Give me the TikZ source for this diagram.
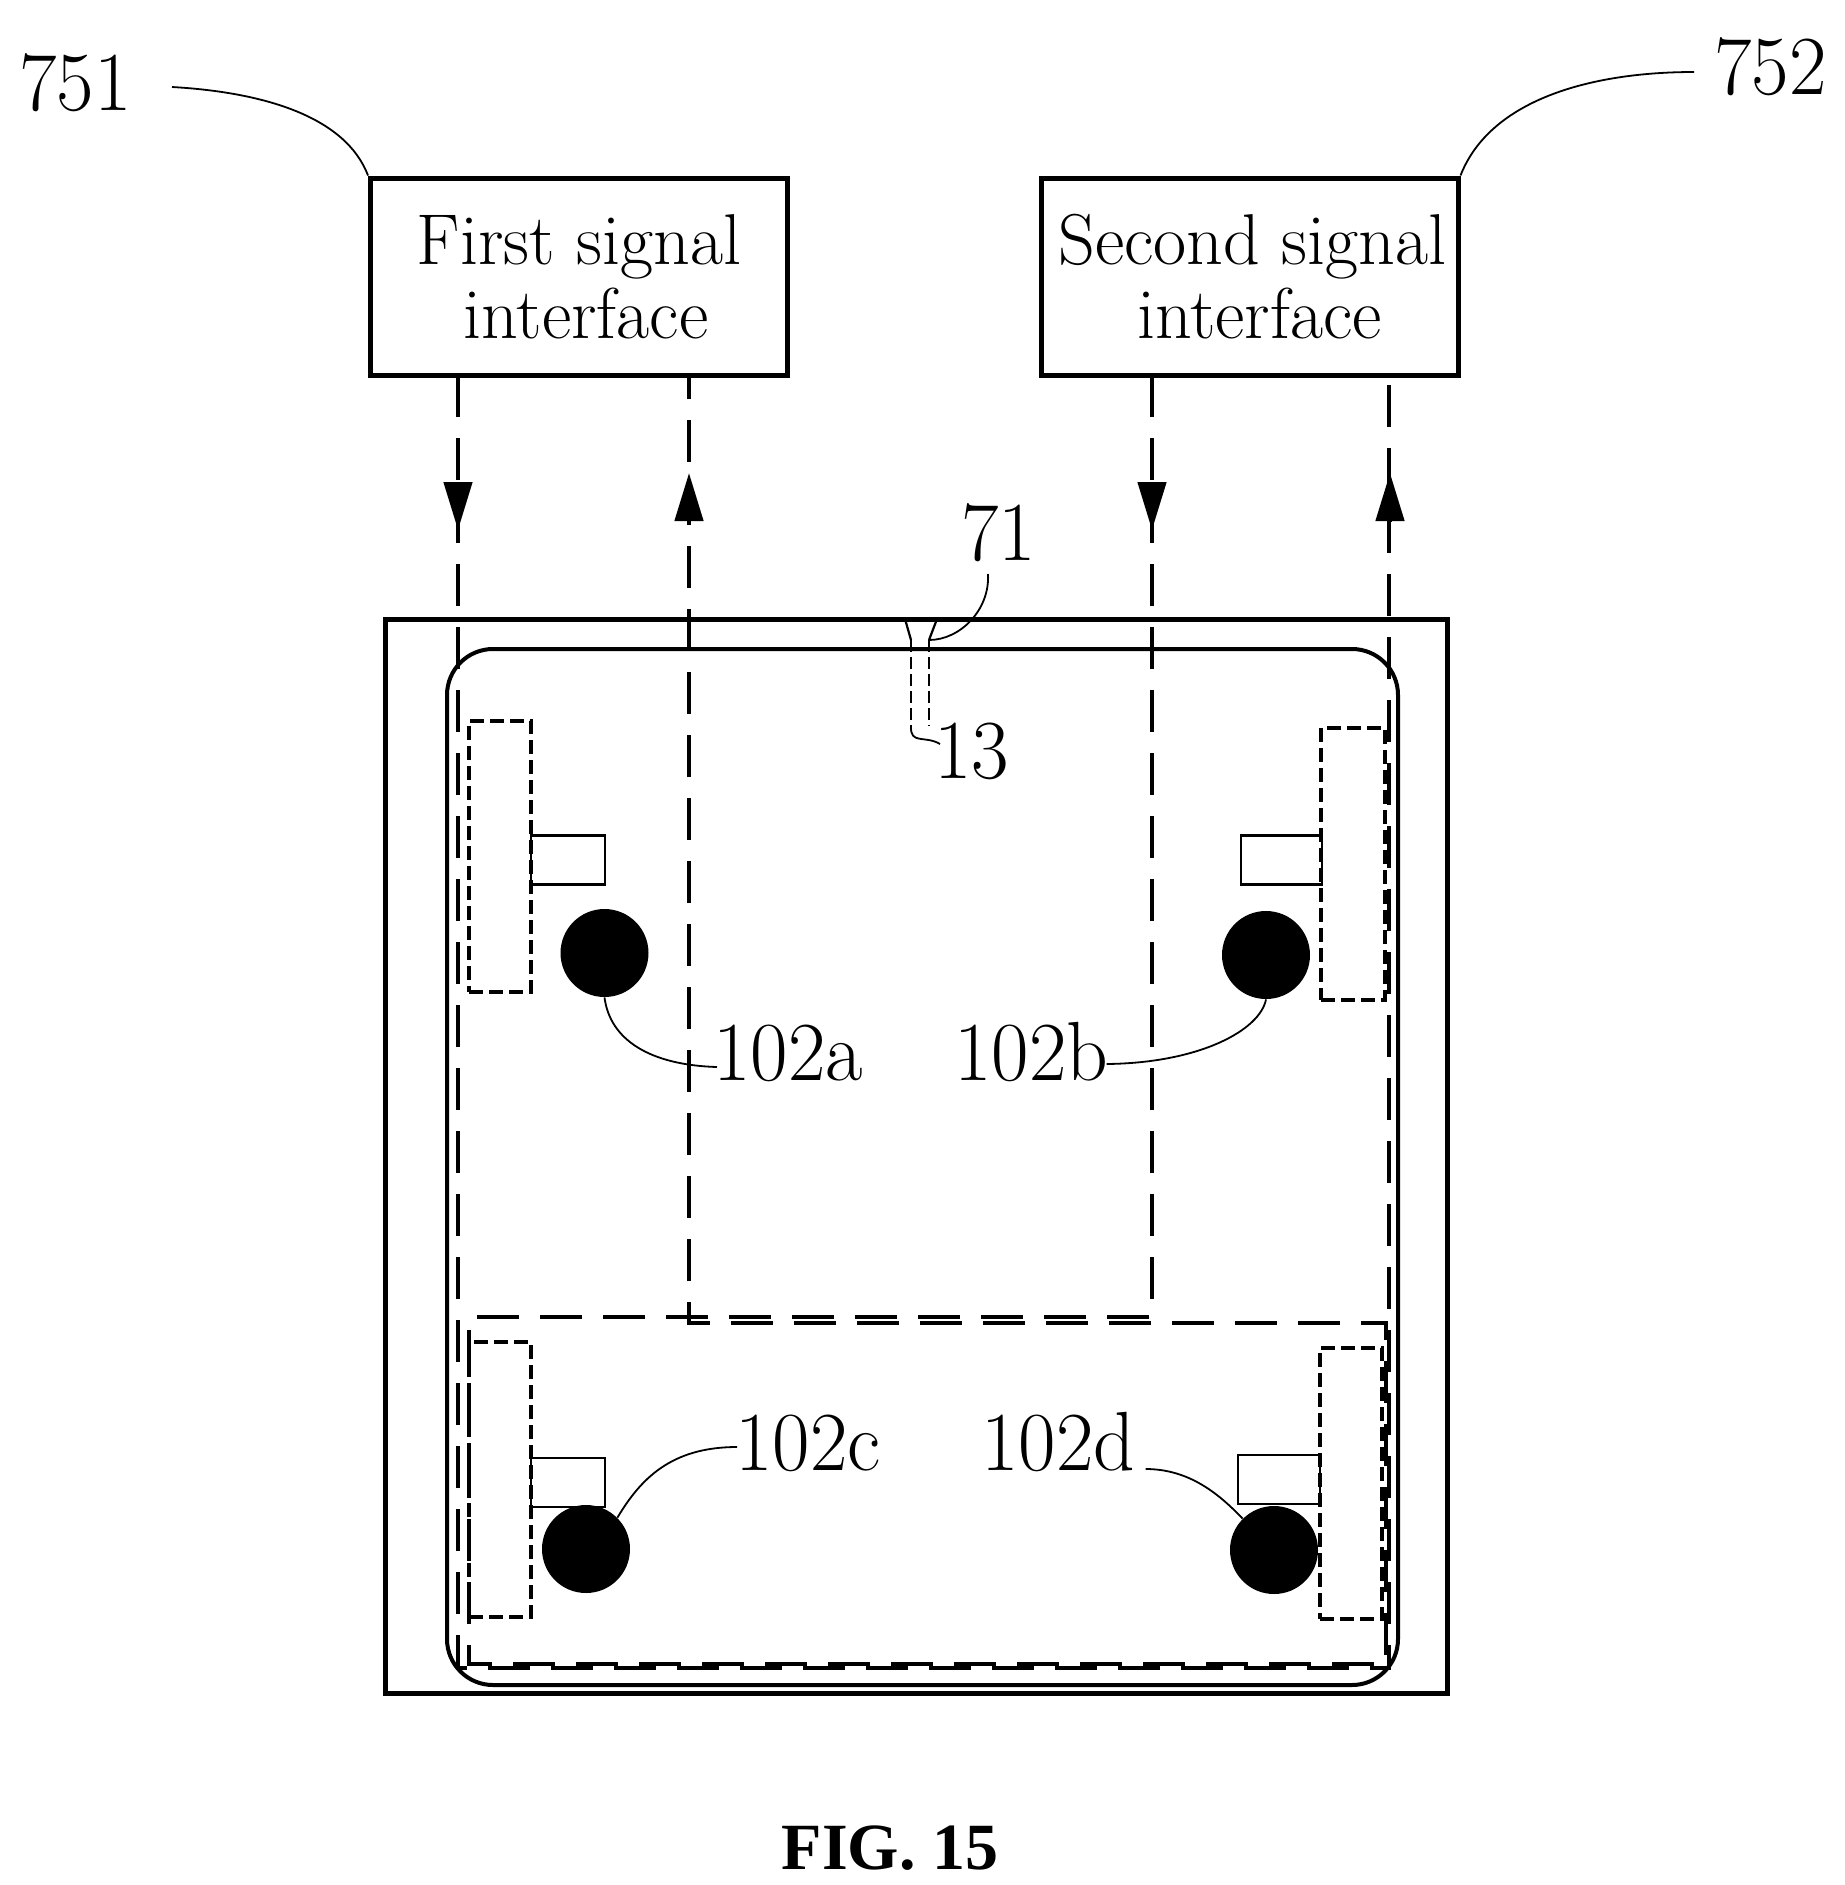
\documentclass[tikz,border=0pt]{standalone}
\usepackage{graphicx}
\usepackage{fontspec}
\newfontfamily\figfont{Liberation Serif}
\usetikzlibrary{arrows.meta}
\newcommand{\nw}[1]{\scalebox{.97}[1]{#1}}
\tikzset{
  frame/.style={draw=black,line width=2.5pt,fill=none},
  ifacebox/.style={draw=black,line width=2.5pt,minimum width=208.5pt,minimum height=98.5pt,inner sep=0pt,align=center,font=\fontsize{36}{36}\selectfont},
  reflabel/.style={anchor=base west,inner sep=0pt,font=\fontsize{42}{42}\selectfont},
  sig/.style={draw=black,line width=2.3pt,dash pattern=on 21pt off 10.5pt},
  sighead/.style={draw=black,line width=2.3pt,-{Triangle[length=24pt,width=14pt]}},
  leader/.style={draw=black,line width=0.9pt},
  strip/.style={draw=black,line width=1.6pt,dash pattern=on 7pt off 3pt},
  tab/.style={draw=black,line width=1.4pt,minimum width=37pt,minimum height=24.5pt,inner sep=0pt},
  dot/.style={circle,fill=black,minimum size=44pt,inner sep=0pt},
  pinline/.style={draw=black,line width=1.1pt,dash pattern=on 6pt off 2.5pt},
}
\begin{document}
\begin{tikzpicture}[x=0.5pt,y=-0.5pt]
\useasboundingbox (0,0) rectangle (1844,1885);
% interface boxes
\node[ifacebox] (b751) at (579,276.5) {First signal\\[1pt]\hspace*{7pt}interface};
\node[ifacebox] (b752) at (1249.5,276.5) {\hspace*{3pt}Second signal\\[1pt]\hspace*{10pt}interface};
% reference labels
\node[reflabel] (l751) at (19,110) {\nw{751}};
\node[reflabel] (l752) at (1714,94) {\nw{752}};
\node[reflabel] (l71) at (961,560) {\nw{71}};
\node[reflabel] (l13) at (934,778) {\nw{13}};
\node[reflabel] (l102a) at (713,1080) {\nw{102a}};
\node[reflabel] (l102b) at (954,1080) {\nw{102b}};
\node[reflabel] (l102c) at (735,1470) {\nw{102c}};
\node[reflabel] (l102d) at (981,1470) {\nw{102d}};
% housing
\draw[frame] (385,619) rectangle (1447,1693);
\draw[frame,line width=2pt,rounded corners=23pt] (447,649) rectangle (1398,1685);
% signal path coordinates
\coordinate (s1t) at (458,375);  \coordinate (s1k) at (458,482); \coordinate (s1h) at (458,530);
\coordinate (s1c) at (458,1668); \coordinate (s1d) at (1389,1668);
\coordinate (s2t) at (689,375);  \coordinate (s2k) at (689,522); \coordinate (s2h) at (689,473);
\coordinate (s2b) at (689,1323);
\coordinate (s3t) at (1152,375); \coordinate (s3k) at (1152,482); \coordinate (s3h) at (1152,530);
\coordinate (s3b) at (1152,1317);
\coordinate (s4t) at (1390,375); \coordinate (s4k) at (1390,522); \coordinate (s4h) at (1390,473);
\coordinate (s5a) at (469,1317); \coordinate (s5b) at (469,1664);
\coordinate (s5c) at (1386,1664);\coordinate (s5d) at (1386,1323);
% signal paths
\draw[sig] (s1t) -- (s1c) -- (s1d) -- (s1d |- s4t);
\draw[sig] (s3t) -- (s3b) -- (s5a) -- (s5b) -- (s5c) -- (s5d) -- (s2b) -- (s2t);
\draw[sighead] (s1k) -- (s1h);
\draw[sighead] (s2k) -- (s2h);
\draw[sighead] (s3k) -- (s3h);
\draw[sighead] (s4k) -- (s4h);
% strips
\node[strip,minimum width=31pt,minimum height=135.5pt,inner sep=0pt] (st1) at (500,856.5) {};
\node[strip,minimum width=32pt,minimum height=136pt,inner sep=0pt] (st2) at (1353,864) {};
\node[strip,minimum width=31pt,minimum height=137.5pt,inner sep=0pt] (st3) at (500,1479.5) {};
\node[strip,minimum width=31pt,minimum height=135.5pt,inner sep=0pt] (st4) at (1351,1483.5) {};
% tabs
\node[tab] (t1) at (568,860) {};
\node[tab,minimum width=40.5pt] (t2) at (1281.5,860) {};
\node[tab] (t3) at (568,1482.5) {};
\node[tab,minimum width=41pt] (t4) at (1279,1479.5) {};
% dots
\node[dot] (c1) at (604.5,953) {};
\node[dot] (c2) at (1266,955) {};
\node[dot] (c3) at (586,1549) {};
\node[dot] (c4) at (1274,1550) {};
% pin 13
\coordinate (p1) at (905,619); \coordinate (p2) at (911,640);
\coordinate (p3) at (911,726); \coordinate (p4) at (929,726);
\coordinate (p5) at (929,640); \coordinate (p6) at (937,619);
\draw[pinline] (p2) -- (p3);
\draw[pinline] (p5) -- (p4);
\draw[leader,line width=1.1pt] (p1) -- (p2) (p5) -- (p6);
% leaders
\draw[leader] ([xshift=20pt,yshift=11.5pt]l751.base east) .. controls (260,92) and (345,115) .. (b751.north west);
\draw[leader] ([xshift=-10pt,yshift=11pt]l752.base west) .. controls (1590,72) and (1490,100) .. (b752.north east);
\draw[leader] (p5) .. controls (960,640) and (990,610) .. ([xshift=13.5pt,yshift=-7pt]l71.base west);
\draw[leader] (p3) .. controls (910,745) and (925,735) .. ([xshift=3pt,yshift=17pt]l13.base west);
\draw[leader] (c1.south) .. controls (610,1040) and (650,1065) .. ([xshift=2pt,yshift=6.5pt]l102a.base west);
\draw[leader] (c2.south) .. controls (1260,1030) and (1200,1063) .. ([xshift=-1pt,yshift=8pt]l102b.base east);
\draw[leader] (c3.north east) .. controls (640,1480) and (670,1447) .. ([xshift=1pt,yshift=11.5pt]l102c.base west);
\draw[leader] (c4.north west) .. controls (1220,1495) and (1190,1469) .. ([xshift=5pt,yshift=0.5pt]l102d.base east);
% caption
\node[inner sep=0pt,anchor=base] (cap) at (890,1869) {\figfont\bfseries\fontsize{33}{33}\selectfont FIG. 15};
\end{tikzpicture}
\end{document}
